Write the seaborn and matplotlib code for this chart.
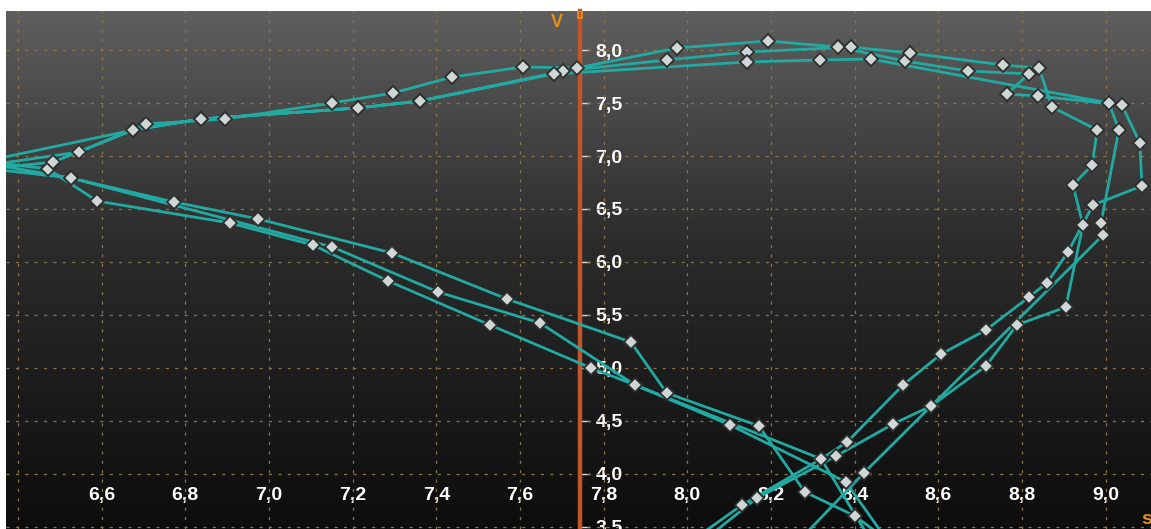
import numpy as np
import pandas as pd
import matplotlib
matplotlib.use("Agg")
import matplotlib.pyplot as plt
import seaborn as sns
from matplotlib.ticker import FuncFormatter
from matplotlib.patches import Rectangle

# trajectory (s, v), three passes, points below/left of the view are clipped
s_vals = [
    # pass 1
    7.95, 8.131, 8.320, 8.382, 8.516, 8.607, 8.714, 8.817, 8.860, 8.910, 8.970,
    9.087, 9.082, 9.039, 8.838, 8.764, 8.817, 8.671, 8.520, 8.360, 8.193, 7.975,
    7.736, 7.607, 7.438, 7.296, 7.151, 6.895, 6.706, 6.546, 6.340, 6.527, 6.773,
    6.974, 7.294, 7.569, 7.865, 7.951, 8.171, 8.281, 8.401, 8.52,
    # pass 2
    8.00, 8.167, 8.356, 8.492, 8.583, 8.714, 8.788, 8.905, 8.946, 8.922, 8.968,
    8.980, 8.872, 8.841, 8.755, 8.532, 8.391, 8.143, 7.951, 7.703, 7.361, 7.213,
    6.837, 6.675, 6.320, 6.472, 6.589, 6.907, 7.105, 7.285, 7.528, 7.770, 7.875,
    8.102, 8.379, 8.50,
    # pass 3
    8.25, 8.422, 8.994, 8.989, 9.032, 9.008, 8.439, 8.317, 8.143, 7.681, 7.361,
    7.213, 6.837, 6.675, 6.484, 6.330, 6.527, 7.151, 7.404, 7.648, 7.875, 8.320,
    8.45,
]
v_vals = [
    3.20, 3.708, 4.142, 4.302, 4.840, 5.132, 5.358, 5.670, 5.802, 6.094, 6.538,
    6.717, 7.123, 7.481, 7.566, 7.585, 7.774, 7.802, 7.896, 8.028, 8.085, 8.019,
    7.830, 7.840, 7.745, 7.594, 7.500, 7.349, 7.302, 7.038, 6.920, 6.792, 6.566,
    6.406, 6.085, 5.651, 5.245, 4.764, 4.453, 3.830, 3.604, 3.25,
    3.25, 3.774, 4.170, 4.472, 4.642, 5.019, 5.406, 5.575, 6.349, 6.726, 6.915,
    7.245, 7.462, 7.830, 7.858, 7.972, 8.028, 7.981, 7.906, 7.802, 7.519, 7.453,
    7.349, 7.245, 6.950, 6.877, 6.575, 6.368, 6.160, 5.821, 5.406, 5.000, 4.840,
    4.462, 3.925, 3.25,
    3.30, 4.009, 6.255, 6.368, 7.245, 7.500, 7.915, 7.906, 7.887, 7.774, 7.519,
    7.453, 7.349, 7.245, 6.943, 6.880, 6.792, 6.142, 5.717, 5.425, 4.840, 4.142,
    3.30,
]

x_ticks = [6.6, 6.8, 7.0, 7.2, 7.4, 7.6, 7.8, 8.0, 8.2, 8.4, 8.6, 8.8, 9.0]
y_ticks = [3.5, 4.0, 4.5, 5.0, 5.5, 6.0, 6.5, 7.0, 7.5, 8.0]

df = pd.DataFrame({"s": s_vals, "v": v_vals})

sns.set_style("dark")
plt.rcParams["font.family"] = ["Liberation Sans", "DejaVu Sans"]

fig = plt.figure(figsize=(11.51, 5.29), dpi=100)
fig.patch.set_facecolor("white")
ax = fig.add_axes([6 / 1151, 0, 1145 / 1151, 518 / 529])

xlim = (6.3713, 9.1086)
ylim = (3.481, 8.368)

# background gradient, grey at top to near black at bottom
grad = np.interp(np.linspace(0, 1, 256), [0, 0.45, 1], [0.37, 0.17, 0.05])
img = np.stack([grad, grad, grad], axis=-1)[:, None, :]
ax.imshow(img, extent=[xlim[0], xlim[1], ylim[0], ylim[1]], aspect="auto", zorder=0)

# dashed grid
for gx in np.arange(6.4, 9.01, 0.2):
    ax.axvline(gx, color="#8a7448", lw=0.9, ls=(0, (2.5, 5)), zorder=1)
for gy in y_ticks:
    ax.axhline(gy, color="#8a7448", lw=0.9, ls=(0, (2.5, 5)), zorder=1)

sns.lineplot(data=df, x="s", y="v", sort=False, estimator=None, ax=ax,
             color="#22aaa2", lw=2.0, marker="D", markersize=7,
             markerfacecolor="#cfd6d6", markeredgecolor="#2e2e2e",
             markeredgewidth=1.3, zorder=3)

ax.set_xlim(*xlim)
ax.set_ylim(*ylim)
ax.set_xlabel("")
ax.set_ylabel("")

fmt = FuncFormatter(lambda x, p: f"{x:.1f}".replace(".", ","))

# orange vertical axis carrying the v ticks
for side in ["left", "top", "bottom"]:
    ax.spines[side].set_visible(False)
ax.spines["right"].set_position(("data", 7.7435))
ax.spines["right"].set_color("#c2552c")
ax.spines["right"].set_linewidth(3.2)
ax.spines["right"].set_zorder(2)
ax.yaxis.set_ticks_position("right")
ax.set_yticks(y_ticks)
ax.yaxis.set_major_formatter(fmt)
ax.tick_params(axis="y", colors="#d8d8d8", length=7, width=1, pad=4,
               labelsize=14, labelcolor="white")

ax.set_xticks(x_ticks)
ax.xaxis.set_major_formatter(fmt)
ax.tick_params(axis="x", length=0, pad=-30, labelsize=14, labelcolor="white")

for lab in ax.get_xticklabels() + ax.get_yticklabels():
    lab.set_fontweight("bold")

ax.text(7.689, 8.264, "V", color="#e8901a", fontsize=13, fontweight="bold",
        ha="center", va="center")
ax.text(9.099, 3.566, "s", color="#e8901a", fontsize=14, fontweight="bold",
        ha="center", va="center")
ax.add_patch(Rectangle((7.7435 - 0.004, 8.30), 0.008, 0.07, fill=False,
                       edgecolor="#e8901a", lw=1.2, zorder=4))

fig.savefig("out.png", dpi=100)
